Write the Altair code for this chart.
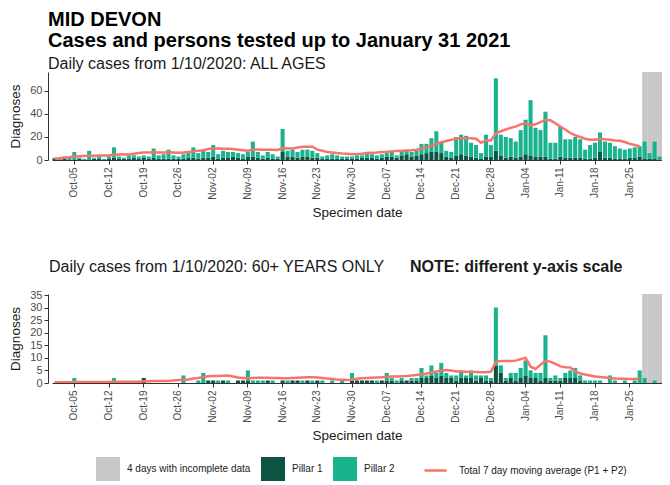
import altair as alt
import pandas as pd

# ---- categories -------------------------------------------------------------
day_dates = pd.date_range("2020-10-01", "2021-01-31", freq="D")
days = [d.strftime("%b-%d") for d in day_dates]
week_ticks = ["Oct-05", "Oct-12", "Oct-19", "Oct-26", "Nov-02", "Nov-09", "Nov-16",
              "Nov-23", "Nov-30", "Dec-07", "Dec-14", "Dec-21", "Dec-28", "Jan-04",
              "Jan-11", "Jan-18", "Jan-25"]
incomplete_days = ["Jan-28", "Jan-29", "Jan-30", "Jan-31"]

GREY_LABEL = "4 days with incomplete data"
AVG_LABEL = "Total 7 day moving average (P1 + P2)"
TITLE_LINES = ["MID DEVON", "Cases and persons tested up to January 31 2021"]
TOP_SUBTITLE = "Daily cases from 1/10/2020: ALL AGES"
BOTTOM_SUBTITLE = "Daily cases from 1/10/2020: 60+ YEARS ONLY"
BOTTOM_NOTE = "NOTE: different y-axis scale"

# ---- ALL AGES (Oct 1 -> Jan 31) ---------------------------------------------
all_p1 = [1, 0, 1, 0, 0, 1, 0,   0, 1, 1, 0, 1, 2, 1,   1, 1, 2, 1, 2, 1, 2,
          1, 1, 1, 1, 1, 1, 2,   2, 1, 2, 2, 3, 1, 2,   2, 3, 2, 1, 3, 3, 2,
          1, 2, 1, 1, 7, 3, 3,   2, 3, 3, 2, 2, 1, 1,   1, 1, 1, 1, 1, 1, 2,
          2, 2, 1, 2, 3, 3, 2,   4, 5, 3, 4, 5, 6, 7,   7, 6, 3, 2, 4, 5, 4,
          3, 2, 1, 3, 3, 8, 4,   2, 3, 2, 3, 5, 4, 3,   3, 3, 1, 1, 3, 2, 2,
          2, 2, 1, 1, 2, 7, 2,   2, 1, 1, 1, 2, 2, 3,   1, 1, 1, 0]
all_p2 = [1, 1, 2, 2, 7, 1, 1,   8, 1, 2, 1, 2, 9, 2,   1, 3, 2, 2, 2, 2, 8,
          3, 4, 8, 3, 2, 4, 4,   9, 5, 6, 5, 10, 4, 6,  5, 4, 4, 4, 4, 13, 5,
          3, 5, 4, 2, 20, 5, 6,  5, 6, 6, 6, 4, 2, 3,   4, 3, 2, 2, 2, 3, 2,
          5, 3, 3, 3, 3, 4, 2,   4, 3, 4, 5, 9, 8, 12,  18, 10, 5, 5, 16, 17, 17,
          12, 11, 5, 19, 10, 63, 18,  18, 16, 14, 23, 30, 48, 25,
          23, 39, 14, 14, 26, 16, 16,  18, 16, 8, 12, 13, 17, 14,
          13, 11, 9, 8, 8, 9, 9,   15, 5, 15, 3]
all_avg = [1.2, 1.6, 2.0, 2.4, 3.0, 3.2, 3.4,   3.6, 3.8, 3.9, 4.0, 4.0, 4.5, 4.8,
           5.0, 4.8, 5.5, 6.0, 6.5, 6.5, 6.8,   6.5, 6.5, 6.8, 6.5, 6.2, 6.5, 7.0,
           7.5, 8.0, 8.5, 9.5, 10.0, 10.0, 9.8, 9.8, 9.5, 9.0, 8.5, 8.0, 9.0, 9.2,
           9.0, 9.0, 9.0, 8.8, 10.5, 10.0, 10.0, 10.8, 11.5, 11.6, 11.5, 9.0, 8.0, 7.0,
           6.5, 6.0, 5.7, 5.5, 5.0, 5.2, 5.5,   6.0, 6.3, 6.5, 7.0, 7.2, 7.5, 7.8,
           8.0, 8.3, 8.5, 9.0, 10.0, 11.0, 12.5, 14.0, 15.5, 16.5, 17.5, 18.5, 19.0, 19.0,
           19.0, 18.5, 15.0, 17.0, 17.0, 23.0, 25.0, 26.5, 28.0, 29.0, 31.0, 32.0, 30.0, 31.0,
           33.0, 35.0, 34.5, 32.0, 29.0, 26.5, 23.5, 21.5, 20.0, 18.5, 17.6, 17.6, 18.5, 18.0,
           17.6, 17.0, 16.8, 15.6, 14.0, 13.0, 11.8]

# ---- 60+ YEARS (Oct 1 -> Jan 31) --------------------------------------------
old_p1 = [0, 0, 0, 0, 0, 0, 0,   0, 0, 0, 0, 0, 0, 0,   0, 0, 0, 0, 2, 0, 0,
          0, 0, 0, 0, 0, 0, 0,   0, 0, 0, 1, 1, 0, 1,   0, 0, 1, 1, 1, 0, 0,
          0, 1, 0, 0, 1, 0, 1,   1, 0, 1, 0, 1, 0, 0,   0, 0, 0, 0, 1, 1, 1,
          1, 1, 0, 1, 1, 1, 0,   1, 1, 1, 1, 2, 2, 3,   2, 3, 2, 2, 1, 2, 2,
          2, 1, 2, 1, 1, 7, 4,   1, 2, 1, 2, 3, 2, 2,   1, 2, 1, 1, 1, 2, 2,
          2, 1, 0, 0, 0, 0, 0,   0, 0, 0, 0, 0, 0, 0,   0, 0, 0, 0]
old_p2 = [0, 0, 0, 0, 2, 0, 0,   0, 0, 0, 0, 0, 2, 0,   0, 0, 0, 0, 0, 0, 0,
          0, 0, 0, 0, 0, 3, 0,   0, 1, 4, 0, 0, 1, 0,   1, 0, 0, 0, 4, 1, 1,
          1, 0, 1, 0, 0, 1, 0,   0, 1, 0, 1, 0, 1, 0,   1, 0, 1, 0, 3, 0, 0,
          0, 0, 1, 0, 3, 1, 1,   1, 0, 1, 1, 4, 1, 4,   2, 5, 2, 1, 2, 3, 1,
          3, 2, 1, 2, 1, 23, 3,  1, 2, 3, 4, 6, 3, 2,   3, 17, 1, 2, 1, 2, 3,
          4, 2, 1, 1, 1, 1, 0,   3, 1, 0, 1, 0, 1, 5,   2, 0, 1, 0]
old_avg = [0.3, 0.3, 0.3, 0.3, 0.4, 0.4, 0.4,   0.4, 0.4, 0.4, 0.4, 0.4, 0.5, 0.5,
           0.5, 0.5, 0.5, 0.5, 0.7, 0.7, 0.8,   0.8, 0.8, 0.8, 1.0, 1.2, 1.3, 1.4,
           1.8, 2.0, 2.4, 2.7, 2.8, 2.8, 2.9,   3.0, 2.6, 2.2, 2.0, 2.0, 2.0, 2.1,
           2.1, 2.1, 2.0, 2.0, 1.9, 1.9, 2.0,   2.1, 2.2, 2.3, 2.3, 2.2, 2.0, 1.8,
           1.6, 1.4, 1.3, 1.2, 1.3, 1.7, 1.9,   2.0, 2.1, 2.2, 2.3, 2.5, 2.6, 2.6,
           2.7, 2.8, 3.0, 3.2, 3.5, 3.8, 4.2,   4.6, 4.9, 5.2, 5.0, 4.6, 4.6, 4.5,
           4.4, 4.4, 4.3, 4.3, 4.5, 8.3, 8.8,   8.8, 8.8, 8.9, 9.5, 10.0, 6.5, 5.6,
           7.2, 8.8, 8.5, 7.6, 6.6, 6.3, 6.2,   4.6, 3.8, 3.4, 3.0, 2.6, 2.4, 2.2,
           2.0, 1.8, 1.7, 1.7, 1.6, 1.6, 1.7]

# ---- styling ----------------------------------------------------------------
FONT = "Liberation Sans"
fill_domain = [GREY_LABEL, "Pillar 1", "Pillar 2"]
fill_range = ["#c8c8c8", "#0b5444", "#19b38f"]
W = 614


def panel(p1, p2, avg, ymax, yvals, height, fill_legend, stroke_legend,
          title=None, heading=None, note=None):
    n = len(days)
    bars = pd.DataFrame({
        "day": days * 2,
        "series": ["Pillar 1"] * n + ["Pillar 2"] * n,
        "value": p1 + p2,
        "ord": [0] * n + [1] * n,
    })
    line = pd.DataFrame({"day": days[:len(avg)], "value": avg, "series": [AVG_LABEL] * len(avg)})
    grey = pd.DataFrame({"day": incomplete_days, "series": [GREY_LABEL] * len(incomplete_days)})

    x = alt.X("day:N", scale=alt.Scale(domain=days, range=[4, W], paddingInner=0, paddingOuter=0),
              axis=alt.Axis(values=week_ticks, labelAngle=270, labelAlign="right",
                            labelBaseline="middle", title="Specimen date",
                            labelFontSize=10, labelColor="#4d4d4d", titleFontSize=13.5,
                            titleFontWeight="normal", titleColor="#1a1a1a",
                            tickSize=4, labelPadding=3, titlePadding=6,
                            domainColor="#333", tickColor="#333"))
    yscale = alt.Scale(domain=[0, ymax], nice=False)
    yaxis = alt.Axis(values=yvals, title="Diagnoses", grid=False, labelFontSize=11,
                     labelColor="#4d4d4d", titleFontSize=13.5, titleFontWeight="normal",
                     titleColor="#1a1a1a", tickSize=4, labelPadding=2, titlePadding=7,
                     domainColor="#333", tickColor="#333")
    fill_scale = alt.Scale(domain=fill_domain, range=fill_range)

    grey_layer = alt.Chart(grey).mark_rect(strokeWidth=0).encode(
        x=x,
        y=alt.datum(ymax, scale=yscale, axis=yaxis, type="quantitative"),
        y2=alt.datum(0),
        fill=alt.Fill("series:N", scale=fill_scale, legend=fill_legend),
    )
    bar_layer = alt.Chart(bars).mark_bar(width=alt.RelativeBandSize(0.82)).encode(
        x=x,
        y=alt.Y("value:Q", scale=yscale, axis=yaxis, stack="zero"),
        fill=alt.Fill("series:N", scale=fill_scale, legend=fill_legend),
        order=alt.Order("ord:Q", sort="ascending"),
    )
    line_layer = alt.Chart(line).mark_line(strokeWidth=2.5).encode(
        x=x,
        y=alt.Y("value:Q", scale=yscale, axis=yaxis),
        stroke=alt.Stroke("series:N", scale=alt.Scale(domain=[AVG_LABEL], range=["#f7736c"]),
                          legend=stroke_legend),
    )
    layers = [grey_layer, bar_layer, line_layer]
    if heading is not None:
        layers.append(alt.Chart(pd.DataFrame({"t": [heading]})).mark_text(
            align="left", baseline="alphabetic", fontSize=16, font=FONT, color="#1a1a1a"
        ).encode(x=alt.value(1), y=alt.value(-22), text="t:N"))
    if note is not None:
        layers.append(alt.Chart(pd.DataFrame({"t": [note]})).mark_text(
            align="left", baseline="alphabetic", fontWeight="bold", fontSize=16,
            font=FONT, color="#1a1a1a"
        ).encode(x=alt.value(362), y=alt.value(-22), text="t:N"))
    props = dict(width=W, height=height)
    if title is not None:
        props["title"] = title
    return alt.layer(*layers).properties(**props)


fill_legend = alt.Legend(orient="none", legendX=48, legendY=385, direction="horizontal",
                         title=None, symbolType="square", symbolSize=576,
                         symbolStrokeWidth=0, labelFontSize=10, labelFont=FONT,
                         labelColor="#1a1a1a", columnPadding=10, labelOffset=7)
stroke_legend = alt.Legend(orient="none", legendX=375, legendY=386, direction="horizontal",
                           title=None, symbolType="stroke", symbolSize=484,
                           symbolStrokeWidth=2.5, labelFontSize=10, labelFont=FONT,
                           labelColor="#1a1a1a", labelOffset=11, labelLimit=400)

top_title = alt.TitleParams(
    text=TITLE_LINES, subtitle=TOP_SUBTITLE,
    anchor="start", frame="group", fontSize=20, fontWeight="bold", color="black",
    lineHeight=21, subtitleFontSize=16, subtitleFontWeight="normal",
    subtitleColor="#1a1a1a", subtitlePadding=5, offset=0, font=FONT, subtitleFont=FONT,
)

top = panel(all_p1, all_p2, all_avg, 76.5, [0, 20, 40, 60], 88,
            fill_legend, stroke_legend, title=top_title)
bottom = panel(old_p1, old_p2, old_avg, 35.4, [0, 5, 10, 15, 20, 25, 30, 35], 89,
               fill_legend, stroke_legend, heading=BOTTOM_SUBTITLE, note=BOTTOM_NOTE)

chart = alt.vconcat(top, bottom, spacing=40).properties(
    padding={"top": 2, "left": 0, "right": 0, "bottom": 0}
).configure(font=FONT).configure_view(stroke=None)

chart.save("out.html", embed_options={"renderer": "svg", "actions": False})
